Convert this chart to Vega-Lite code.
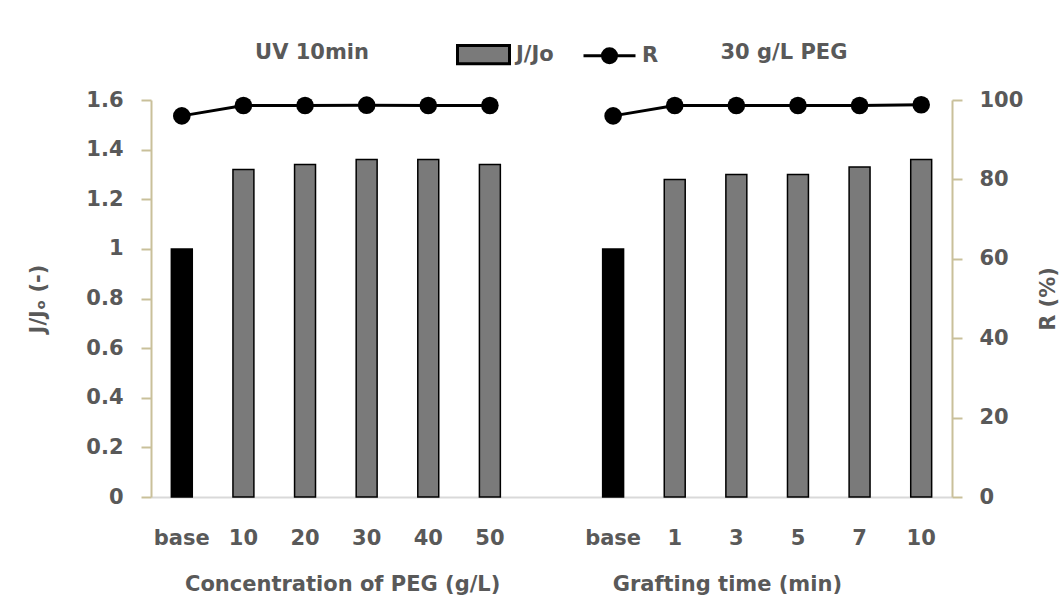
{
  "$schema": "https://vega.github.io/schema/vega-lite/v6.json",
  "autosize": "none",
  "width": 801,
  "height": 397,
  "padding": {"left": 151, "top": 100, "right": 108, "bottom": 118},
  "background": "white",
  "config": {
    "view": {"stroke": null},
    "font": "DejaVu Sans",
    "axis": {"labelFont": "DejaVu Sans", "labelFontWeight": "bold", "labelFontSize": 21, "labelColor": "#595959", "titleFont": "DejaVu Sans", "titleFontWeight": "bold", "titleFontSize": 21, "titleColor": "#595959", "grid": false},
    "legend": {"labelFont": "DejaVu Sans", "labelFontWeight": "bold", "labelFontSize": 21, "labelColor": "#595959"},
    "text": {"font": "DejaVu Sans", "fontWeight": "bold", "fontSize": 21, "color": "#595959"}
  },
  "data": {
    "values": [
      {"key": "c_base", "grp": "c", "series": "J/Jo", "value": 1.00},
      {"key": "c_10", "grp": "c", "series": "J/Jo", "value": 1.32},
      {"key": "c_20", "grp": "c", "series": "J/Jo", "value": 1.34},
      {"key": "c_30", "grp": "c", "series": "J/Jo", "value": 1.36},
      {"key": "c_40", "grp": "c", "series": "J/Jo", "value": 1.36},
      {"key": "c_50", "grp": "c", "series": "J/Jo", "value": 1.34},
      {"key": "t_base", "grp": "t", "series": "J/Jo", "value": 1.00},
      {"key": "t_1", "grp": "t", "series": "J/Jo", "value": 1.28},
      {"key": "t_3", "grp": "t", "series": "J/Jo", "value": 1.30},
      {"key": "t_5", "grp": "t", "series": "J/Jo", "value": 1.30},
      {"key": "t_7", "grp": "t", "series": "J/Jo", "value": 1.33},
      {"key": "t_10", "grp": "t", "series": "J/Jo", "value": 1.36},
      {"key": "c_base", "grp": "c", "series": "R", "value": 96.0},
      {"key": "c_10", "grp": "c", "series": "R", "value": 98.6},
      {"key": "c_20", "grp": "c", "series": "R", "value": 98.6},
      {"key": "c_30", "grp": "c", "series": "R", "value": 98.7},
      {"key": "c_40", "grp": "c", "series": "R", "value": 98.6},
      {"key": "c_50", "grp": "c", "series": "R", "value": 98.6},
      {"key": "t_base", "grp": "t", "series": "R", "value": 96.0},
      {"key": "t_1", "grp": "t", "series": "R", "value": 98.6},
      {"key": "t_3", "grp": "t", "series": "R", "value": 98.6},
      {"key": "t_5", "grp": "t", "series": "R", "value": 98.6},
      {"key": "t_7", "grp": "t", "series": "R", "value": 98.6},
      {"key": "t_10", "grp": "t", "series": "R", "value": 98.8}
    ]
  },
  "resolve": {"scale": {"y": "independent"}},
  "layer": [
    {
      "transform": [{"filter": "datum.series == 'J/Jo'"}],
      "mark": {"type": "bar", "width": {"band": 0.34}, "stroke": "black", "strokeWidth": 1.5, "opacity": 1},
      "encoding": {
        "x": {"field": "key", "type": "nominal", "sort": null,
          "scale": {"domain": ["c_base","c_10","c_20","c_30","c_40","c_50","gap_","t_base","t_1","t_3","t_5","t_7","t_10"], "paddingInner": 0, "paddingOuter": 0},
          "axis": {"title": null, "labelExpr": "split(datum.value, '_')[1]", "labelAngle": 0, "ticks": false, "domainColor": "#d9d9d9", "domainWidth": 2, "labelPadding": 30}},
        "y": {"field": "value", "type": "quantitative",
          "scale": {"domain": [0, 1.6], "nice": false, "zero": true},
          "axis": {"title": "J/Jₒ (-)", "values": [0,0.2,0.4,0.6,0.8,1,1.2,1.4,1.6], "format": ".1~f", "domainColor": "#c9c09a", "domainWidth": 2, "tickColor": "#c9c09a", "tickWidth": 2, "tickSize": 10, "labelPadding": 18, "titlePadding": 37}},
        "fill": {"condition": {"test": "datum.key == 'c_base' || datum.key == 't_base'", "value": "black"}, "value": "#7a7a7a"}
      }
    },
    {
      "transform": [{"filter": "datum.series == 'R'"}],
      "layer": [
        {
          "mark": {"type": "line", "color": "black", "strokeWidth": 3, "opacity": 1},
          "encoding": {
            "x": {"field": "key", "type": "nominal", "sort": null, "scale": {"domain": ["c_base","c_10","c_20","c_30","c_40","c_50","gap_","t_base","t_1","t_3","t_5","t_7","t_10"], "paddingInner": 0, "paddingOuter": 0}},
            "y": {"field": "value", "type": "quantitative",
              "scale": {"domain": [0, 100], "nice": false},
              "axis": {"orient": "right", "title": "R (%)", "titleAngle": 270, "values": [0,20,40,60,80,100], "domainColor": "#c9c09a", "domainWidth": 2, "tickColor": "#c9c09a", "tickWidth": 2, "tickSize": 10, "labelPadding": 17, "titlePadding": 36}},
            "detail": {"field": "grp"}
          }
        },
        {
          "mark": {"type": "point", "filled": true, "fill": "black", "size": 310, "opacity": 1, "strokeWidth": 0},
          "encoding": {
            "x": {"field": "key", "type": "nominal", "sort": null, "scale": {"domain": ["c_base","c_10","c_20","c_30","c_40","c_50","gap_","t_base","t_1","t_3","t_5","t_7","t_10"], "paddingInner": 0, "paddingOuter": 0}},
            "y": {"field": "value", "type": "quantitative"}
          }
        }
      ]
    },
    {
      "transform": [{"filter": "false"}],
      "mark": {"type": "point", "filled": true, "opacity": 1, "strokeWidth": 3},
      "encoding": {
        "fill": {"field": "series", "type": "nominal", "scale": {"domain": ["J/Jo", "R"], "range": ["#7a7a7a", "black"]},
          "legend": {"title": null, "orient": "none", "legendX": 305, "legendY": -73, "direction": "horizontal", "padding": 0, "symbolSize": 2704, "symbolStrokeWidth": 3, "labelOffset": 5, "columnPadding": 23}},
        "stroke": {"field": "series", "type": "nominal", "scale": {"domain": ["J/Jo", "R"], "range": ["black", "black"]},
          "legend": {"title": null, "orient": "none", "legendX": 305, "legendY": -73, "direction": "horizontal", "padding": 0, "symbolSize": 2704, "symbolStrokeWidth": 3, "labelOffset": 5, "columnPadding": 23}},
        "shape": {"field": "series", "type": "nominal", "scale": {"domain": ["J/Jo", "R"], "range": ["M-1,-0.35H1V0.35H-1Z", "M-1,0H1M-0.27,0A0.27,0.27 0 1 1 0.27,0A0.27,0.27 0 1 1 -0.27,0Z"]},
          "legend": {"title": null, "orient": "none", "legendX": 305, "legendY": -73, "direction": "horizontal", "padding": 0, "symbolSize": 2704, "symbolStrokeWidth": 3, "labelOffset": 5, "columnPadding": 23}}
      }
    },
    {
      "data": {"values": [{"label": "UV 10min"}]},
      "mark": {"type": "text", "dx": 7, "baseline": "middle"},
      "encoding": {
        "text": {"field": "label"},
        "x": {"datum": "c_20", "type": "nominal", "scale": {"domain": ["c_base","c_10","c_20","c_30","c_40","c_50","gap_","t_base","t_1","t_3","t_5","t_7","t_10"], "paddingInner": 0, "paddingOuter": 0}},
        "y": {"datum": 1.79, "type": "quantitative", "scale": {"domain": [0, 1.6], "nice": false}, "axis": null}
      }
    },
    {
      "data": {"values": [{"label": "30 g/L PEG"}]},
      "mark": {"type": "text", "dx": -14, "baseline": "middle"},
      "encoding": {
        "text": {"field": "label"},
        "x": {"datum": "t_5", "type": "nominal", "scale": {"domain": ["c_base","c_10","c_20","c_30","c_40","c_50","gap_","t_base","t_1","t_3","t_5","t_7","t_10"], "paddingInner": 0, "paddingOuter": 0}},
        "y": {"datum": 1.79, "type": "quantitative", "scale": {"domain": [0, 1.6], "nice": false}, "axis": null}
      }
    },
    {
      "data": {"values": [{"label": "Concentration of PEG (g/L)"}]},
      "mark": {"type": "text", "dx": -24, "baseline": "middle"},
      "encoding": {
        "text": {"field": "label"},
        "x": {"datum": "c_30", "type": "nominal", "scale": {"domain": ["c_base","c_10","c_20","c_30","c_40","c_50","gap_","t_base","t_1","t_3","t_5","t_7","t_10"], "paddingInner": 0, "paddingOuter": 0}},
        "y": {"datum": -0.355, "type": "quantitative", "scale": {"domain": [0, 1.6], "nice": false}, "axis": null}
      }
    },
    {
      "data": {"values": [{"label": "Grafting time (min)"}]},
      "mark": {"type": "text", "dx": -9, "baseline": "middle"},
      "encoding": {
        "text": {"field": "label"},
        "x": {"datum": "t_3", "type": "nominal", "scale": {"domain": ["c_base","c_10","c_20","c_30","c_40","c_50","gap_","t_base","t_1","t_3","t_5","t_7","t_10"], "paddingInner": 0, "paddingOuter": 0}},
        "y": {"datum": -0.355, "type": "quantitative", "scale": {"domain": [0, 1.6], "nice": false}, "axis": null}
      }
    }
  ]
}
